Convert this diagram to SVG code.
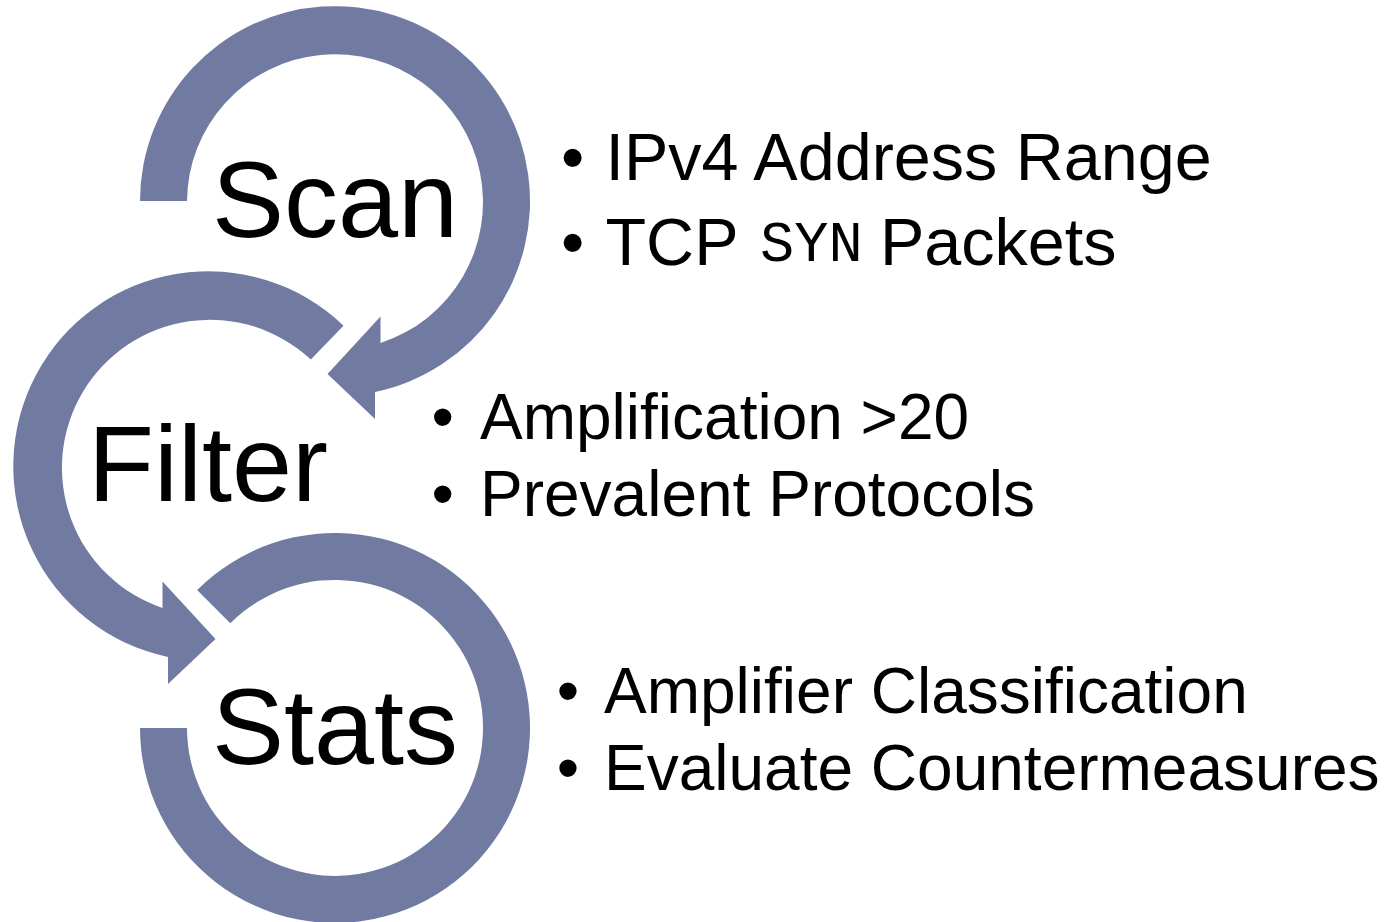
<svg xmlns="http://www.w3.org/2000/svg" width="1389" height="922" viewBox="0 0 1389 922">
<style>
.ring{fill:#717ba1;stroke:none}
.lbl{font-family:"Liberation Sans",Arial,sans-serif;font-size:108px;fill:#000;text-anchor:middle}
.b1{font-family:"Liberation Sans",Arial,sans-serif;font-size:66.5px;fill:#000}
.b2{font-family:"Liberation Sans",Arial,sans-serif;font-size:64px;fill:#000}
.dot{text-anchor:middle}
.mono{font-family:"Courier New","Liberation Mono",monospace;font-size:57px}
</style>
<rect width="1389" height="922" fill="#fff"/>
<g id="connectors">
<path class="ring" d="M 140 201 A 195 195 0 1 1 375 392 L 375 419 L 327.5 374 L 380.5 316.5 L 380.5 343 A 148 148 0 1 0 187 201 Z"/>
<path class="ring" d="M 343.5 325.7 A 195 195 0 1 0 168 657 L 168 684 L 215.5 639 L 162.5 581.5 L 162.5 608 A 148 148 0 1 1 310.8 359.5 Z"/>
<path class="ring" d="M 197.1 590.1 A 195 195 0 1 1 140 728 L 187 728 A 148 148 0 1 0 230.3 623.3 Z"/>
</g>
<g id="scan">
<text class="lbl" x="335" y="237">Scan</text>
<text class="b1 dot" x="572.7" y="179.5">•</text>
<text class="b1" x="605.5" y="179.5">IPv4 Address Range</text>
<text class="b1 dot" x="572.7" y="265">•</text>
<text class="b1" x="605.5" y="265">TCP</text>
<text class="b1 mono" x="760" y="261">SYN</text>
<text class="b1" x="880" y="265">Packets</text>
</g>
<g id="filter">
<text class="lbl" x="208" y="501">Filter</text>
<text class="b2 dot" x="442.7" y="439">•</text>
<text class="b2" x="480" y="439">Amplification &gt;20</text>
<text class="b2 dot" x="442.7" y="516">•</text>
<text class="b2" x="480" y="516">Prevalent Protocols</text>
</g>
<g id="stats">
<text class="lbl" x="335" y="764">Stats</text>
<text class="b2 dot" x="568" y="713">•</text>
<text class="b2" x="604" y="713">Amplifier Classification</text>
<text class="b2 dot" x="568" y="790">•</text>
<text class="b2" x="604" y="790">Evaluate Countermeasures</text>
</g>
</svg>
